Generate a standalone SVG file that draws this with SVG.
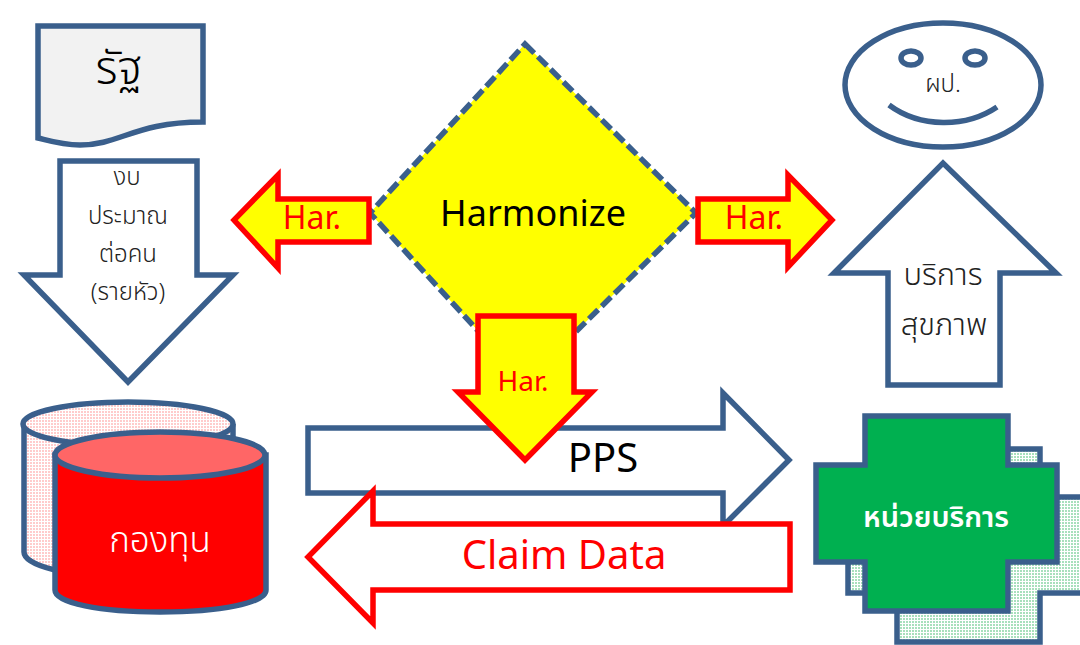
<svg xmlns="http://www.w3.org/2000/svg" width="1080" height="645" viewBox="0 0 1080 645">
<style>
.b{stroke:#3a5f8c;stroke-width:5.5;stroke-linejoin:miter}
.r{stroke:#ff0000;stroke-width:5.5;stroke-linejoin:miter}
.w{fill:#fff}
.y{fill:#ffff00}
text{font-family:"Noto Sans","Noto Sans Thai","DejaVu Sans",sans-serif;text-anchor:middle}
.t{font-weight:300}
</style>
<defs>
<pattern id="pr" width="3" height="3" patternUnits="userSpaceOnUse"><rect width="3" height="3" fill="#ffffff"/><rect width="2" height="2" fill="#fcc"/></pattern>
<pattern id="pg" width="3" height="3" patternUnits="userSpaceOnUse"><rect width="3" height="3" fill="#ffffff"/><rect width="2" height="2" fill="#a8e0bc"/></pattern>
</defs>
<g id="state"><path class="b" fill="#f2f2f2" stroke-linejoin="round" d="M38 26H203V122C135 122 120 145 80 145C62 145 50 141 38 138Z"/><text class="t" x="119" y="84" font-size="46" fill="#000">รัฐ</text></g>
<g id="budget"><path class="b w" d="M60 161H197V275H233L128 382L24 275H60Z"/>
<g class="t" font-size="24" fill="#222"><text x="127" y="185">งบ</text><text x="128" y="224">ประมาณ</text><text x="128" y="262">ต่อคน</text><text x="128" y="300">(รายหัว)</text></g></g>
<g id="citizen"><ellipse class="b w" cx="943" cy="85" rx="98" ry="62"/><ellipse class="b w" cx="911" cy="58" rx="10" ry="7"/><ellipse class="b w" cx="975" cy="58" rx="10" ry="7"/><path class="b" fill="none" d="M889 105C920 128 966 128 997 107"/><text class="t" x="943" y="92" font-size="24" fill="#222">ผป.</text></g>
<g id="service"><path class="b w" d="M888 385V273H834L943 163L1056 273H1000V385Z"/><g class="t" font-size="31" fill="#222"><text x="943" y="285">บริการ</text><text x="944" y="335">สุขภาพ</text></g></g>
<g id="harmonize"><path d="M525 44L696 213L525 382L370 213Z" fill="#ffff00" stroke="#3a5f8c" stroke-width="5.5" stroke-dasharray="13 5"/><text x="533" y="226" font-size="36" fill="#000">Harmonize</text></g>
<g id="fund-back"><path class="b" fill="url(#pr)" d="M24 424V552C24 566 70 577 128 577S233 566 233 552V424"/><ellipse class="b" fill="url(#pr)" cx="128" cy="424" rx="105" ry="22"/></g>
<g id="fund"><path class="b" fill="#ff0000" d="M55 455V590C55 603 100 612 160 612S266 603 266 590V455Z"/><ellipse class="b" fill="#ff6666" cx="160" cy="455" rx="105" ry="23"/><text class="t" x="160" y="552" font-size="35" fill="#fff">กองทุน</text></g>
<g id="unit-back"><path class="b" fill="url(#pg)" d="M897 449H1040V497H1090V593H1040V642H897V593H848V497H897Z"/></g>
<g id="unit"><path class="b" fill="#00b050" d="M865 416H1008V465H1057V562H1008V611H865V562H816V465H865Z"/><text x="936" y="527" font-size="29" font-weight="600" fill="#fff">หน่วยบริการ</text></g>
<g id="connectors">
<path class="b w" d="M308 428H723V393L789 460L723 526V493H308Z"/>
<text x="603" y="472" font-size="40" fill="#000">PPS</text>
<path class="r w" d="M790 524V590H373V623L308 557L373 491V524Z"/>
<text x="564" y="569" font-size="40" fill="#ff0000">Claim Data</text>
<path class="r y" d="M369 199V242H278V268L234 220L278 175V199Z"/>
<text x="312" y="229" font-size="32" fill="#ff0000">Har.</text>
<path class="r y" d="M698 199H788V175L832 220L788 267V242H698Z"/>
<text x="754" y="229" font-size="32" fill="#ff0000">Har.</text>
<path class="r y" d="M478 316H574V392H592L525 460L458 392H478Z"/>
<text x="523" y="391" font-size="28" fill="#ff0000">Har.</text>
</g>
</svg>
